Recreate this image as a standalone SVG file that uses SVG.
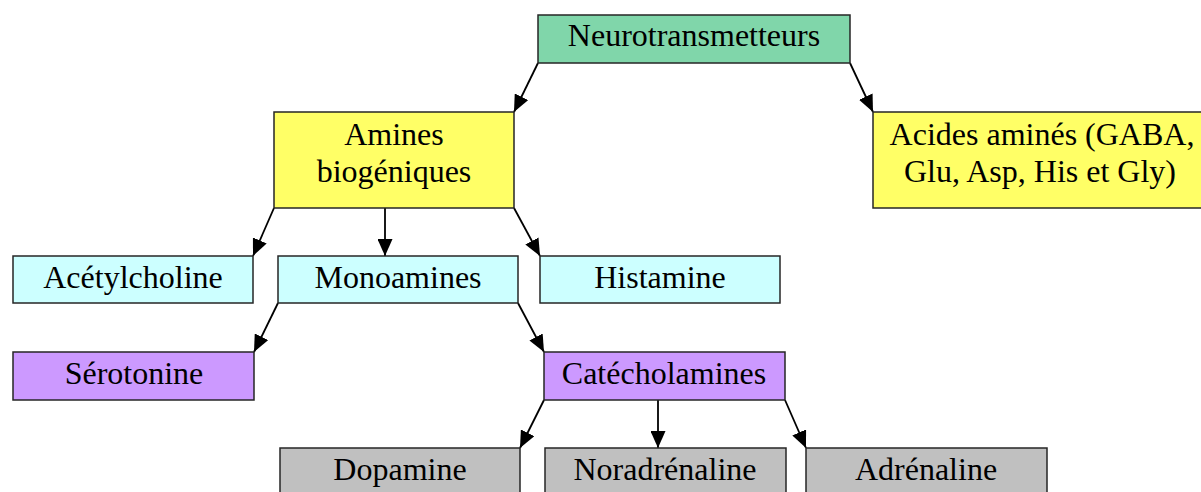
<svg xmlns="http://www.w3.org/2000/svg" width="1201" height="492" viewBox="0 0 1201 492">
<style>
.box{stroke:#262626;stroke-width:1.5}
.g{fill:#80D6AA}.y{fill:#FFFF66}.c{fill:#CCFFFF}.p{fill:#CC99FF}.s{fill:#C0C0C0}
text{font-family:"Liberation Serif","Times New Roman",serif;font-size:32px;fill:#000;text-anchor:middle}
.e line{stroke:#000;stroke-width:1.8;marker-end:url(#ah)}
</style>
<defs>
<marker id="ah" markerUnits="userSpaceOnUse" markerWidth="17" markerHeight="15" refX="17" refY="7.5" orient="auto">
<path d="M0,0 L17,7.5 L0,15 z" fill="#000"/>
</marker>
</defs>
<rect width="1201" height="492" fill="#fff"/>
<g class="e" id="connectors">
<line x1="538" y1="63" x2="514" y2="112"/>
<line x1="850" y1="63" x2="873" y2="112"/>
<line x1="274" y1="208" x2="253" y2="256"/>
<line x1="385" y1="208" x2="385" y2="256"/>
<line x1="514" y1="208" x2="540" y2="256"/>
<line x1="278" y1="303" x2="254" y2="352"/>
<line x1="518" y1="303" x2="544" y2="352"/>
<line x1="544" y1="400" x2="520" y2="448"/>
<line x1="658" y1="400" x2="658" y2="448"/>
<line x1="785" y1="400" x2="806" y2="448"/>
</g>
<g id="neurotransmetteurs"><rect class="box g" x="538" y="15" width="312" height="48"/><text x="694" y="46">Neurotransmetteurs</text></g>
<g id="amines"><rect class="box y" x="274" y="112" width="240" height="96"/><text x="394" y="145">Amines</text><text x="394" y="182">biogéniques</text></g>
<g id="acides"><rect class="box y" x="873" y="112" width="338" height="96"/><text x="1042" y="145">Acides aminés (GABA,</text><text x="1040" y="182">Glu, Asp, His et Gly)</text></g>
<g id="acetylcholine"><rect class="box c" x="13" y="256" width="240" height="47"/><text x="133" y="288">Acétylcholine</text></g>
<g id="monoamines"><rect class="box c" x="278" y="256" width="240" height="47"/><text x="398" y="288">Monoamines</text></g>
<g id="histamine"><rect class="box c" x="540" y="256" width="240" height="47"/><text x="660" y="288">Histamine</text></g>
<g id="serotonine"><rect class="box p" x="13" y="352" width="241" height="48"/><text x="134" y="384">Sérotonine</text></g>
<g id="catecholamines"><rect class="box p" x="544" y="352" width="241" height="48"/><text x="664" y="384">Catécholamines</text></g>
<g id="dopamine"><rect class="box s" x="280" y="448" width="240" height="48"/><text x="400" y="480">Dopamine</text></g>
<g id="noradrenaline"><rect class="box s" x="545" y="448" width="241" height="48"/><text x="665" y="480">Noradrénaline</text></g>
<g id="adrenaline"><rect class="box s" x="806" y="448" width="241" height="48"/><text x="926" y="480">Adrénaline</text></g>
</svg>
